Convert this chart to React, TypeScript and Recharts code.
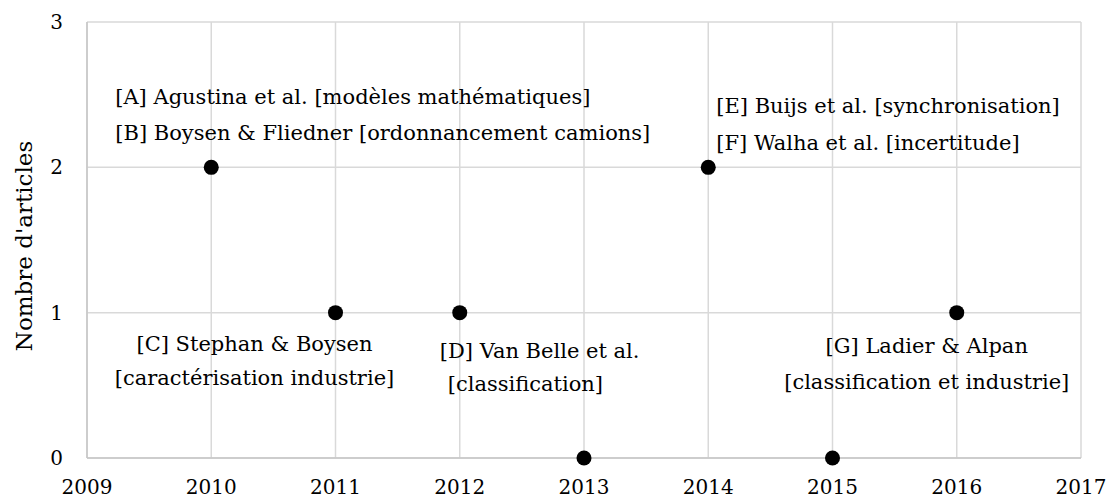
import { ScatterChart, Scatter, XAxis, YAxis, CartesianGrid, Label } from "recharts";

const years = [2010, 2011, 2012, 2013, 2014, 2015, 2016];
const articleCounts = [2, 1, 1, 0, 2, 0, 1];
const notes = [
  ["[A] Agustina et al. [modèles mathématiques]", "[B] Boysen & Fliedner [ordonnancement camions]"],
  ["[C] Stephan & Boysen", "[caractérisation industrie]"],
  ["[D] Van Belle et al.", "[classification]"],
  [],
  ["[E] Buijs et al. [synchronisation]", "[F] Walha et al. [incertitude]"],
  [],
  ["[G] Ladier & Alpan", "[classification et industrie]"],
];
const xTicks = [2009, 2010, 2011, 2012, 2013, 2014, 2015, 2016, 2017];
const yTicks = [0, 1, 2, 3];

// pixel offsets of each note line from its dot (dx, baseline dy)
const notePlacement: { anchor: string; lines: [number, number][] }[] = [
  { anchor: "start", lines: [[-96, -63], [-96, -27]] },
  { anchor: "middle", lines: [[-81, 38], [-81, 72]] },
  { anchor: "start", lines: [[-20, 45], [-12, 78]] },
  { anchor: "start", lines: [] },
  { anchor: "start", lines: [[8, -54], [8, -17]] },
  { anchor: "start", lines: [] },
  { anchor: "middle", lines: [[-30, 40], [-30, 76]] },
];

const rows = years.map((year, i) => ({ year, count: articleCounts[i], idx: i }));

const FONT = "'DejaVu Serif', serif";

const Dot = (props: any) => {
  const { cx, cy, payload } = props;
  const place = notePlacement[payload.idx];
  const lines = notes[payload.idx];
  return (
    <g>
      <circle cx={cx} cy={cy} r={7.5} fill="#000" />
      {lines.map((t, k) => (
        <text
          key={k}
          x={cx + place.lines[k][0]}
          y={cy + place.lines[k][1]}
          textAnchor={place.anchor as any}
          style={{ fontFamily: FONT, fontSize: 21 }}
          fill="#000"
        >
          {t}
        </text>
      ))}
    </g>
  );
};

const YTitle = (props: any) => {
  const { viewBox } = props;
  const cy = viewBox.y + viewBox.height / 2 + 6;
  return (
    <text
      x={32}
      y={cy}
      transform={`rotate(-90, 32, ${cy})`}
      textAnchor="middle"
      style={{ fontFamily: FONT, fontSize: 23 }}
      fill="#000"
    >
      Nombre d'articles
    </text>
  );
};

export default function App() {
  return (
    <div style={{ position: "absolute", left: 0, top: 0, background: "#fff", fontFamily: FONT }}>
      <ScatterChart width={1110} height={501} margin={{ top: 22, right: 29, bottom: 0, left: 0 }}>
        <CartesianGrid stroke="#d9d9d9" strokeWidth={1.5} />
        <XAxis
          type="number"
          dataKey="year"
          domain={[2009, 2017]}
          ticks={xTicks}
          interval={0}
          height={43}
          tickSize={0}
          tickMargin={22}
          axisLine={{ stroke: "#c6c6c6", strokeWidth: 1.5 }}
          tickLine={false}
          tick={{ fill: "#000", fontSize: 20, style: { fontFamily: FONT } }}
        />
        <YAxis
          type="number"
          dataKey="count"
          domain={[0, 3]}
          ticks={yTicks}
          interval={0}
          width={87}
          tickSize={0}
          tickMargin={24}
          axisLine={{ stroke: "#c6c6c6", strokeWidth: 1.5 }}
          tickLine={false}
          tick={{ fill: "#000", fontSize: 20, style: { fontFamily: FONT } }}
        >
          <Label content={<YTitle />} />
        </YAxis>
        <Scatter data={rows} shape={<Dot />} isAnimationActive={false} />
      </ScatterChart>
    </div>
  );
}
